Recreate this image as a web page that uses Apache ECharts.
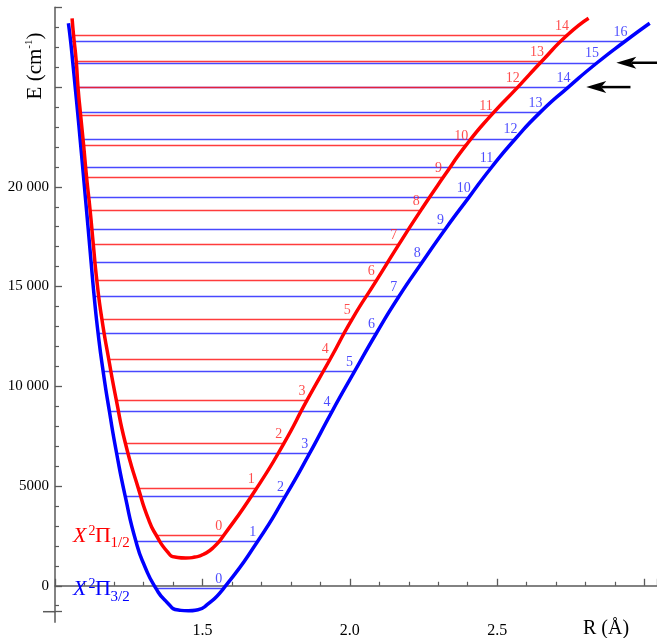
<!DOCTYPE html>
<html><head><meta charset="utf-8">
<script src="https://cdn.jsdelivr.net/npm/echarts@6/dist/echarts.min.js"></script>
<style>html,body{margin:0;padding:0;background:#fff;} #c{width:657px;height:638px;}</style>
</head><body><div id="c"></div>
<script>
const FONT = 'Liberation Serif';

// X2Pi3/2 potential curve (R in Å, E in cm-1)
const blueCurveR = [1.0455, 1.0529, 1.0604, 1.0685, 1.0767, 1.0851, 1.0940, 1.1031, 1.1126, 1.1225, 1.1330, 1.1462, 1.1635, 1.1845, 1.2090, 1.2381, 1.2744, 1.3050, 1.3423, 1.3779, 1.4186, 1.4525, 1.4850, 1.5160, 1.5720, 1.6876, 1.7816, 1.8640, 1.9400, 2.0156, 2.0902, 2.1659, 2.2453, 2.3243, 2.4033, 2.4803, 2.5618, 2.6465, 2.7415, 2.8389, 2.9349, 3.0173];
const blueCurveE = [28200, 27310, 26220, 25000, 23745, 22410, 20970, 19460, 17890, 16215, 14490, 12660, 10730, 8745, 6646, 4490, 2230, 954, -130, -800, -1215, -1255, -1200, -950, -130, 2230, 4490, 6646, 8745, 10730, 12660, 14490, 16215, 17890, 19460, 20970, 22410, 23745, 25000, 26220, 27310, 28200];

// X2Pi1/2 potential curve
const redCurveR = [1.058, 1.063, 1.072, 1.078, 1.087, 1.097, 1.107, 1.119, 1.130, 1.142, 1.159, 1.182, 1.208, 1.239, 1.283, 1.318, 1.344, 1.381, 1.407, 1.444, 1.475, 1.504, 1.538, 1.572, 1.683, 1.776, 1.855, 1.934, 2.008, 2.090, 2.166, 2.242, 2.318, 2.395, 2.479, 2.570, 2.652, 2.737, 2.810];
const redCurveE = [28450, 27595, 26305, 25000, 23580, 22100, 20500, 18845, 17100, 15295, 13370, 11380, 9305, 7130, 4870, 3300, 2520, 1710, 1440, 1390, 1440, 1580, 1930, 2520, 4870, 7130, 9305, 11380, 13370, 15295, 17100, 18845, 20500, 22100, 23580, 25000, 26305, 27595, 28450];

// vibrational levels v = 0..16 of X2Pi3/2
const blueLevelE = [-130, 2230, 4490, 6646, 8745, 10730, 12660, 14490, 16215, 17890, 19460, 20970, 22410, 23745, 25000, 26220, 27310];
const blueLevelLeft = [1.3423, 1.2744, 1.2381, 1.2090, 1.1845, 1.1635, 1.1462, 1.1330, 1.1225, 1.1126, 1.1031, 1.0940, 1.0851, 1.0767, 1.0685, 1.0604, 1.0529];
const blueLevelRight = [1.5720, 1.6876, 1.7816, 1.8640, 1.9400, 2.0156, 2.0902, 2.1659, 2.2453, 2.3243, 2.4033, 2.4803, 2.5618, 2.6465, 2.7415, 2.8389, 2.9349];

// vibrational levels v = 0..14 of X2Pi1/2
const redLevelE = [2520, 4870, 7130, 9305, 11380, 13370, 15295, 17100, 18845, 20500, 22100, 23580, 25000, 26305, 27595];
const redLevelLeft = [1.344, 1.283, 1.239, 1.208, 1.182, 1.159, 1.142, 1.130, 1.119, 1.107, 1.097, 1.087, 1.078, 1.072, 1.063];
const redLevelRight = [1.572, 1.683, 1.776, 1.855, 1.934, 2.008, 2.090, 2.166, 2.242, 2.318, 2.395, 2.479, 2.570, 2.652, 2.737];

// arrows
const arrowE = [26220, 25000];
const arrowTipR = [2.904, 2.802];
const arrowTailR = [3.042, 2.952];

// axes
const xRange = [1.0, 3.042];
const yRange = [-1300, 29000];
const xTickLabels = ['1.5', '2.0', '2.5'];
const yTickValues = [0, 5000, 10000, 15000, 20000];
const yTickLabels = ['0', '5000', '10 000', '15 000', '20 000'];

const AX = '#5a5a5a';
const chart = echarts.init(document.getElementById('c'), null, {renderer: 'canvas'});

function zip(a, b) { return a.map((v, i) => [v, b[i]]); }
function levelLines(E, L, R) { return E.map((e, i) => ({coords: [[L[i], e], [R[i], e]]})); }
function levelLabels(E, R) { return E.map((e, i) => [R[i], e, i]); }

const option = {
  animation: false,
  backgroundColor: '#fff',
  grid: {left: 55, right: 0, top: 7.3, bottom: 26.3, containLabel: false, outerBoundsMode: 'none'},
  xAxis: {
    type: 'value', min: xRange[0], max: xRange[1], interval: 0.5,
    axisLine: {show: true, lineStyle: {color: AX, width: 1.5}},
    axisTick: {show: true, inside: true, length: 7, lineStyle: {color: AX, width: 1.3}},
    minorTick: {show: true, splitNumber: 5, length: 4, lineStyle: {color: AX, width: 1.2}},
    splitLine: {show: false}, minorSplitLine: {show: false},
    axisLabel: {
      color: '#000', fontFamily: FONT, fontSize: 16, margin: 11,
      showMinLabel: true, showMaxLabel: true,
      formatter: function (v) {
        const s = v.toFixed(1);
        return (xTickLabels.indexOf(s) >= 0 && Math.abs(v - parseFloat(s)) < 1e-6) ? s : '';
      }
    }
  },
  yAxis: {
    type: 'value', min: yRange[0], max: yRange[1], splitNumber: 6,
    axisLine: {show: true, lineStyle: {color: AX, width: 1.5}},
    axisTick: {show: true, inside: true, length: 7, lineStyle: {color: AX, width: 1.3}},
    minorTick: {show: true, splitNumber: 5, length: 4, lineStyle: {color: AX, width: 1.2}},
    splitLine: {show: false}, minorSplitLine: {show: false},
    axisLabel: {
      color: '#000', fontFamily: FONT, fontSize: 15, margin: 6,
      formatter: function (v) {
        const k = yTickValues.indexOf(v);
        return k >= 0 ? yTickLabels[k] : '';
      }
    }
  },
  series: [
    {type: 'lines', coordinateSystem: 'cartesian2d', silent: true, z: 1,
     lineStyle: {color: '#1a1aff', width: 1.4, opacity: 0.8},
     data: levelLines(blueLevelE, blueLevelLeft, blueLevelRight)},
    {type: 'lines', coordinateSystem: 'cartesian2d', silent: true, z: 2,
     lineStyle: {color: '#ff1a1a', width: 1.4, opacity: 0.85},
     data: levelLines(redLevelE, redLevelLeft, redLevelRight)},
    {type: 'line', data: zip(blueCurveR, blueCurveE), showSymbol: false, smooth: 0.6,
     lineStyle: {color: '#0000ff', width: 3.5}, z: 3, silent: true},
    {type: 'line', data: zip(redCurveR, redCurveE), showSymbol: false, smooth: 0.6,
     lineStyle: {color: '#ff0000', width: 3.5}, z: 4, silent: true},
    {type: 'scatter', data: levelLabels(blueLevelE, blueLevelRight), symbolSize: 0, z: 5, silent: true,
     label: {show: true, position: 'top', distance: 2, offset: [-5, 0], color: '#2020ff', fontFamily: FONT, fontSize: 14,
             formatter: p => String(p.value[2])}},
    {type: 'scatter', data: levelLabels(redLevelE, redLevelRight), symbolSize: 0, z: 5, silent: true,
     label: {show: true, position: 'top', distance: 2, offset: [-5, 0], color: '#ff2020', fontFamily: FONT, fontSize: 14,
             formatter: p => String(p.value[2])}},
    {type: 'custom', z: 6, silent: true, encode: {x: [0, 1], y: 2},
     data: arrowE.map((e, i) => [arrowTipR[i], arrowTailR[i], e]),
     renderItem: function (params, api) {
       const tip = api.coord([api.value(0), api.value(2)]);
       const tail = api.coord([api.value(1), api.value(2)]);
       const L = 20, W = 6, N = 5;
       return {type: 'group', children: [
         {type: 'line', shape: {x1: tail[0], y1: tail[1], x2: tip[0] + L - N, y2: tip[1]}, style: {stroke: '#000', lineWidth: 2.5}},
         {type: 'polygon', shape: {points: [[tip[0], tip[1]], [tip[0] + L, tip[1] - W], [tip[0] + L - N, tip[1]], [tip[0] + L, tip[1] + W]]}, style: {fill: '#000'}}
       ]};
     }}
  ]
};
chart.setOption(option);

// axis extensions beyond the crossing point + texts
const o = chart.convertToPixel({gridIndex: 0}, [xRange[0], yRange[0]]);
function txt(x, y, t, size, color, italic) {
  return {type: 'text', x: x, y: y, z: 10, silent: true,
    style: {text: t, fontFamily: FONT, fontSize: size, fontStyle: italic ? 'italic' : 'normal', fill: color, align: 'left', verticalAlign: 'middle'}};
}
chart.setOption({graphic: [
  {type: 'line', shape: {x1: o[0] - 12, y1: o[1], x2: o[0], y2: o[1]}, style: {stroke: AX, lineWidth: 1.5}, z: 10},
  {type: 'line', shape: {x1: o[0], y1: o[1], x2: o[0], y2: o[1] + 11}, style: {stroke: AX, lineWidth: 1.5}, z: 10},
  txt(73, 535.8, 'X', 22, '#ff0000', true),
  txt(88.5, 531, '2', 14, '#ff0000', false),
  txt(95, 535.8, 'Π', 22, '#ff0000', false),
  txt(110.5, 543.5, '1/2', 15, '#ff0000', false),
  txt(73, 589.2, 'X', 22, '#0000ff', true),
  txt(88.5, 584.4, '2', 14, '#0000ff', false),
  txt(95, 589.2, 'Π', 22, '#0000ff', false),
  txt(110.5, 596.9, '3/2', 15, '#0000ff', false),
  {type: 'text', x: 606, y: 628.3, z: 10, silent: true,
   style: {text: 'R (Å)', fontFamily: FONT, fontSize: 20, fill: '#000', align: 'center', verticalAlign: 'middle'}},
  {type: 'text', x: 35.5, y: 66, rotation: Math.PI / 2, z: 10, silent: true,
   style: {text: '{a|E (cm}{s|-1}{a|)}', align: 'center', verticalAlign: 'middle',
     rich: {a: {fontFamily: FONT, fontSize: 21, fill: '#000', lineHeight: 24, verticalAlign: 'middle'},
            s: {fontFamily: FONT, fontSize: 11, fill: '#000', lineHeight: 13, verticalAlign: 'top'}}}}
]});
</script>
</body></html>
